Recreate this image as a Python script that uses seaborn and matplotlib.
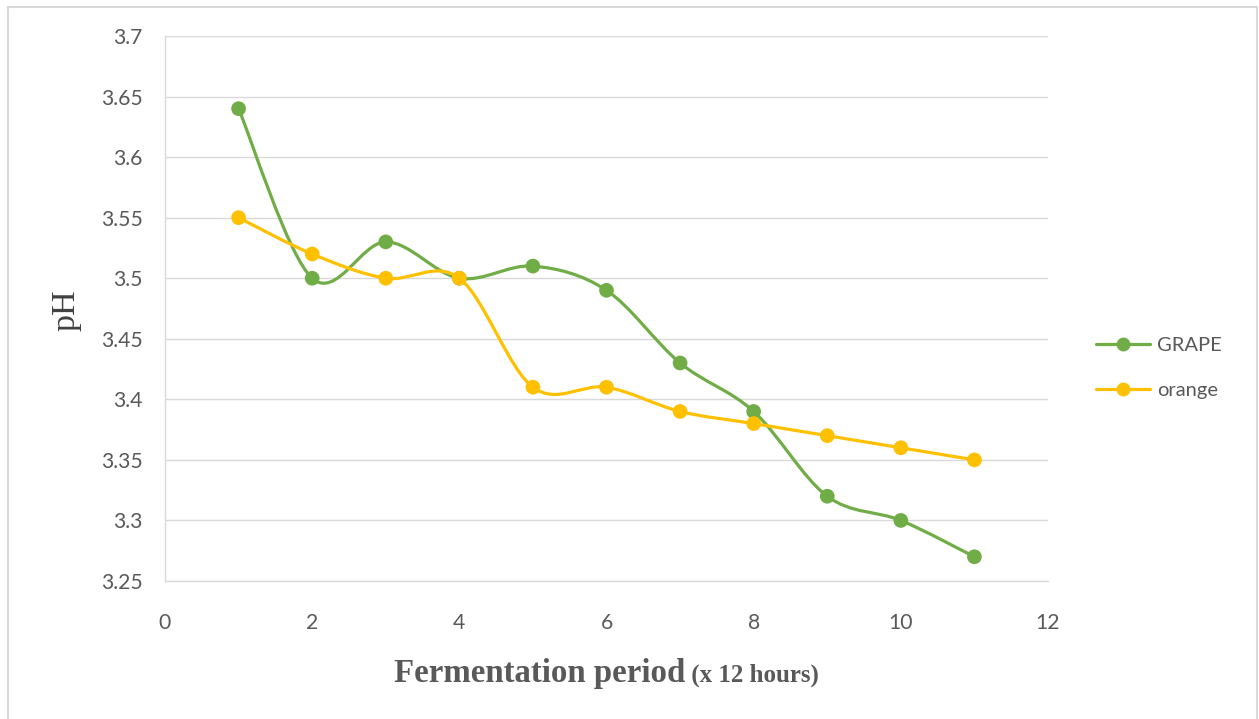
import numpy as np
import pandas as pd
import matplotlib
matplotlib.use("Agg")
import matplotlib.pyplot as plt
from matplotlib.path import Path
from matplotlib.patches import PathPatch, Rectangle
from matplotlib.lines import Line2D
import seaborn as sns

# pH readings over the fermentation period (each step = 12 hours)
periods = [1, 2, 3, 4, 5, 6, 7, 8, 9, 10, 11]
grape_ph = [3.64, 3.50, 3.53, 3.50, 3.51, 3.49, 3.43, 3.39, 3.32, 3.30, 3.27]
orange_ph = [3.55, 3.52, 3.50, 3.50, 3.41, 3.41, 3.39, 3.38, 3.37, 3.36, 3.35]
series_names = ["GRAPE", "orange"]
series_colors = ["#70AD47", "#FFC000"]
x_ticks = [0, 2, 4, 6, 8, 10, 12]
y_ticks = [3.25, 3.3, 3.35, 3.4, 3.45, 3.5, 3.55, 3.6, 3.65, 3.7]

df = pd.concat([
    pd.DataFrame({"period": periods, "pH": grape_ph, "fruit": series_names[0]}),
    pd.DataFrame({"period": periods, "pH": orange_ph, "fruit": series_names[1]}),
], ignore_index=True)

sns.set_theme(style="white")
plt.rcParams["font.family"] = ["Lato", "DejaVu Sans"]

TICK_COLOR = "#595959"
GRID_COLOR = "#d9d9d9"

fig = plt.figure(figsize=(12.59, 7.19), dpi=100)
ax = fig.add_axes([165 / 1259, 1 - 581 / 719, (1048 - 165) / 1259, (581 - 36) / 719])


def smooth_path(xs, ys):
    """Cubic Bezier path through the points (Catmull-Rom style smoothing)."""
    pts = np.column_stack([xs, ys]).astype(float)
    n = len(pts)
    verts = [pts[0]]
    codes = [Path.MOVETO]
    for i in range(n - 1):
        p_prev = pts[i - 1] if i > 0 else pts[i]
        p0 = pts[i]
        p1 = pts[i + 1]
        p_next = pts[i + 2] if i + 2 < n else pts[i + 1]
        c1 = p0 + (p1 - p_prev) / 6.0
        c2 = p1 - (p_next - p0) / 6.0
        verts += [c1, c2, p1]
        codes += [Path.CURVE4] * 3
    return Path(verts, codes)


z = 2
for name, color in zip(series_names, series_colors):
    sub = df[df["fruit"] == name]
    patch = PathPatch(smooth_path(sub["period"], sub["pH"]), facecolor="none",
                      edgecolor=color, lw=2.3, capstyle="round",
                      joinstyle="round", zorder=z)
    ax.add_patch(patch)
    sns.scatterplot(data=sub, x="period", y="pH", color=color, s=112,
                    edgecolor="none", linewidth=0, legend=False, ax=ax,
                    zorder=z + 1)
    z += 2

ax.set_xlim(0, 12)
ax.set_ylim(3.25, 3.7)
ax.set_xticks(x_ticks)
ax.set_yticks(y_ticks)
ax.set_xticklabels([str(t) for t in x_ticks])
ax.set_yticklabels([f"{t:g}" for t in y_ticks])
ax.tick_params(axis="both", length=0, labelsize=15.2, colors=TICK_COLOR)
ax.tick_params(axis="y", pad=16)
ax.tick_params(axis="x", pad=23)
ax.yaxis.grid(True, color=GRID_COLOR, lw=1.0)
ax.xaxis.grid(False)
ax.set_axisbelow(True)
for side in ["top", "right"]:
    ax.spines[side].set_visible(False)
for side in ["left", "bottom"]:
    ax.spines[side].set_color(GRID_COLOR)
    ax.spines[side].set_linewidth(1.0)
ax.set_xlabel("")
ax.set_ylabel("")

# y-axis title
fig.text(66 / 1259, 1 - 310 / 719, "pH", rotation=90, ha="center", va="center",
         family=["Liberation Serif"], fontsize=24.5, color="#404040")

# x-axis title in two sizes
fig.canvas.draw()
renderer = fig.canvas.get_renderer()
t1 = fig.text(0, 1 - 682 / 719, "Fermentation period", family=["Liberation Serif"],
              fontsize=23.7, fontweight="bold", color=TICK_COLOR, va="baseline")
t2 = fig.text(0, 1 - 682 / 719, " (x 12 hours)", family=["Liberation Serif"],
              fontsize=18, fontweight="bold", color=TICK_COLOR, va="baseline")
w1 = t1.get_window_extent(renderer).width
w2 = t2.get_window_extent(renderer).width
center_px = (165 + 1048) / 2
start_px = center_px - (w1 + w2) / 2
t1.set_x(start_px / 1259)
t2.set_x((start_px + w1) / 1259)

handles = [Line2D([0], [0], color=c, lw=2.3, marker="o", markersize=10,
                  markeredgewidth=0) for c in series_colors]
fig.legend(handles, series_names, loc="center left",
           bbox_to_anchor=(1096 / 1259, 1 - 368 / 719), frameon=False,
           fontsize=14.5, labelcolor=TICK_COLOR, handlelength=2.7,
           handletextpad=0.35, labelspacing=1.4, borderpad=0, borderaxespad=0)

# thin outer frame around the chart area
fig.patches.append(Rectangle((8 / 1259, -0.05), (1257 - 8) / 1259, 1.05 - 7 / 719,
                             transform=fig.transFigure, facecolor="none",
                             edgecolor=GRID_COLOR, lw=1.5, zorder=0))

fig.savefig("out.png", dpi=100)
